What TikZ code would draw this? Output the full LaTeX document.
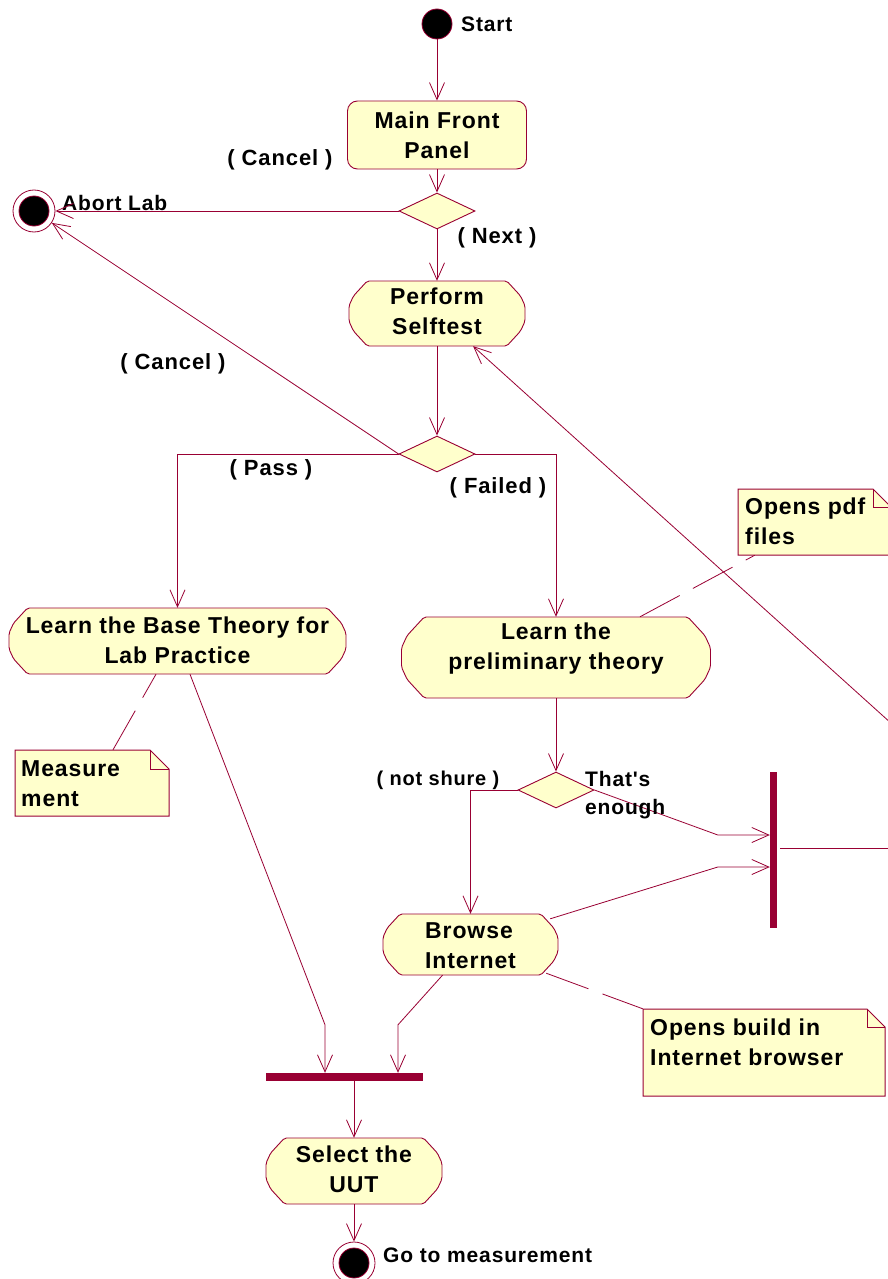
\documentclass[tikz,border=0pt]{standalone}
\usepackage{fontspec}
\setmainfont{Liberation Sans}[LetterSpace=4, Ligatures=TeXOff]
\usetikzlibrary{shapes.geometric,arrows.meta,calc}
\definecolor{umlred}{RGB}{153,0,51}
\definecolor{umlfill}{RGB}{255,255,204}
\newcommand\txtbig{\fontsize{23pt}{30pt}\selectfont\bfseries}
\newcommand\txtlab{\fontsize{22pt}{28pt}\selectfont\bfseries}
\newcommand\txtsmall{\fontsize{21pt}{28pt}\selectfont\bfseries}
\newcommand\txtguard{\fontsize{20pt}{28pt}\selectfont\bfseries}

\tikzset{
  actshape/.style={draw=umlred, fill=umlfill, line width=0.9pt},
  acttext/.style={font=\txtbig, inner sep=0pt},
  noteshape/.style={draw=umlred, fill=umlfill, line width=1pt},
  noteline/.style={draw=umlred, line width=1pt},
  notetext/.style={font=\txtbig, inner sep=0pt, align=left, anchor=north west},
  panel/.style={draw=umlred, fill=umlfill, line width=0.9pt, rounded corners=10pt,
    font=\txtbig, align=center, inner sep=0pt},
  decision/.style={diamond, draw=umlred, fill=umlfill, line width=0.9pt,
    minimum width=76pt, minimum height=36pt, inner sep=0pt},
  initial/.style={circle, fill=black, draw=umlred, line width=0.8pt,
    minimum size=30pt, inner sep=0pt},
  final/.style={circle, draw=umlred, fill=white, line width=0.8pt,
    minimum size=42pt, inner sep=0pt,
    path picture={\filldraw[fill=black, draw=umlred, line width=0.8pt]
      (path picture bounding box.center) circle (15pt);}},
  syncbar/.style={rectangle, fill=umlred, draw=none, inner sep=0pt},
  flow/.style={draw=umlred, line width=0.8pt, -{Straight Barb[length=17pt,width=15pt]}},
  plain/.style={draw=umlred, line width=0.8pt},
  notelink/.style={draw=umlred, line width=0.8pt, dash pattern=on 45pt off 15pt},
  lab/.style={font=\txtlab, inner sep=0pt},
  smalllab/.style={font=\txtsmall, inner sep=0pt},
  guardlab/.style={font=\txtguard, inner sep=0pt},
}

% activity state: octagon-like outline, a named box node and its text
% [align] name, cx, cy, width, height, text offset, text
\newcommand\actstate[8][center]{%
  \pgfmathsetmacro\axl{#3-#5/2}\pgfmathsetmacro\axr{#3+#5/2}%
  \pgfmathsetmacro\ayt{#4-#6/2}\pgfmathsetmacro\ayb{#4+#6/2}%
  \pgfmathsetmacro\adx{0.28*#6}\pgfmathsetmacro\ady{0.38*#6}%
  \path[actshape, rounded corners=2pt] (\axl+\adx,\ayt) -- (\axr-\adx,\ayt)
    -- (\axr-0.25*\adx,\ayt+0.6*\ady) -- (\axr,\ayt+\ady)
    -- (\axr,\ayb-\ady) -- (\axr-0.25*\adx,\ayb-0.6*\ady) -- (\axr-\adx,\ayb)
    -- (\axl+\adx,\ayb) -- (\axl+0.25*\adx,\ayb-0.6*\ady) -- (\axl,\ayb-\ady)
    -- (\axl,\ayt+\ady) -- (\axl+0.25*\adx,\ayt+0.6*\ady) -- cycle;
  \node[inner sep=0pt, minimum width=#5pt, minimum height=#6pt] (#2) at (#3,#4) {};
  \node[acttext, align=#1] (#2-text) at ($(#2)+(0,#7)$) {#8};
}

% note with folded corner: name, x0, y0, x1, y1, fold
\newcommand\notebox[6]{%
  \path[noteshape] (#2,#3) -- (#4-#6,#3) -- (#4,#3+#6) -- (#4,#5) -- (#2,#5) -- cycle;
  \draw[noteline] (#4-#6,#3) -- (#4-#6,#3+#6) -- (#4,#3+#6);
  \node[inner sep=0pt, minimum width={(#4-#2)*1pt}, minimum height={(#5-#3)*1pt}]
    (#1) at ({(#2+#4)/2},{(#3+#5)/2}) {};
}

\begin{document}
\begin{tikzpicture}[x=1pt,y=-1pt]
\useasboundingbox (0,0) rectangle (888,1279);
\fill[white] (0,0) rectangle (888,1279);

% ---------- states ----------
\node[initial] (start) at (437,24) {};
\node[smalllab, anchor=west] (startlab) at (461,24) {Start};

\node[panel, minimum width=179pt, minimum height=68pt] (mfp) at (437,135) {Main Front\\Panel};

\node[decision] (d1) at (437,211) {};
\node[final] (abort) at (34,211) {};
\node[smalllab, anchor=west] (abortlab) at (62,203) {Abort Lab};

\actstate{selftest}{437}{313.5}{176}{65}{-2}{Perform\\Selftest}
\node[decision] (d2) at (437,454) {};

\actstate{base}{177.5}{641}{337}{66}{-1}{Learn the Base Theory for\\Lab Practice}
\actstate{prelim}{556}{657.5}{309}{81}{-9}{Learn the\\preliminary theory}

\node[decision] (d3) at (556,790) {};

\actstate[left]{browse}{470.5}{944.5}{175}{61}{1}{Browse\\Internet}

\node[syncbar, minimum width=7pt, minimum height=156pt] (fork) at (773.5,850) {};
\node[syncbar, minimum width=157pt, minimum height=8pt] (join) at (344.5,1077) {};

\actstate{uut}{354}{1171}{176}{66}{-2}{Select the\\UUT}
\node[final] (done) at (354,1263) {};
\node[smalllab, anchor=west] (donelab) at (383,1255) {Go to measurement};

% ---------- notes ----------
\notebox{pdfnote}{738}{489}{891}{555}{18}
\node[notetext] (pdftext) at (745,498) {Opens pdf\\files};
\notebox{measnote}{15}{750}{169}{816}{19}
\node[notetext] (meastext) at (21,760) {Measure\\ment};
\notebox{buildnote}{643}{1009}{885}{1096}{18}
\node[notetext] (buildtext) at (650,1019) {Opens build in\\Internet browser};

% ---------- free ends at the right border ----------
\coordinate (loopin) at (892,724);
\coordinate (forkout) at (895,848);

% ---------- transitions ----------
\draw[flow] (start) -- (mfp);
\draw[flow] (mfp) -- (d1);
\draw[flow] (d1.west) -- (abort);
\draw[flow] (d1.south) -- (selftest.north);
\draw[flow] (selftest.south) -- (d2.north);
\draw[flow] (d2.west) -- (abort);
\draw[flow] (d2.west) -| (base.north);
\draw[flow] (d2.east) -| (prelim.north);
\draw[flow] (prelim.south) -- (d3.north);
\draw[flow] (d3.west) -| (browse.north);
\draw[flow] (d3.east) -- ($(fork.west)+(-52,-15)$) -- ($(fork.west)+(0,-15)$);
\draw[flow] ($(browse.north east)+(-8,5)$) -- ($(fork.west)+(-52,17)$) -- ($(fork.west)+(0,17)$);
\draw[plain] ($(fork.east |- forkout)+(3,0)$) -- (forkout);
\draw[flow] (loopin) -- (selftest);
\draw[flow] ($(base.south)+(12.5,0)$) -- ($(join.north)+(-19.5,-48)$) -- ($(join.north)+(-19.5,0)$);
\draw[flow] ($(browse.south)+(-28,0)$) -- ($(join.north)+(53.5,-48)$) -- ($(join.north)+(53.5,0)$);
\draw[flow] (join.south -| uut.north) -- (uut.north);
\draw[flow] (uut.south) -- (done);

% ---------- note anchors ----------
\draw[notelink] ($(prelim.north)+(84,0)$) -- ($(pdfnote.south west)+(17,0)$);
\draw[notelink] ($(measnote.north)+(21,0)$) -- ($(base.south)+(-21.5,0)$);
\draw[notelink] ($(browse.south east)+(-12,-2)$) -- (buildnote.north west);

% ---------- guard labels ----------
\node[lab] (lcancela) at (280,160) {( Cancel )};
\node[lab] (lnext) at (497,238) {( Next )};
\node[lab] (lcancelb) at (173,364) {( Cancel )};
\node[lab] (lpass) at (271,470) {( Pass )};
\node[lab] (lfailed) at (498,488) {( Failed )};
\node[guardlab] (lnotsure) at (438,780) {( not shure )};
\node[smalllab, anchor=west, align=left] (lenough) at (585,795) {That's\\enough};
\end{tikzpicture}
\end{document}
